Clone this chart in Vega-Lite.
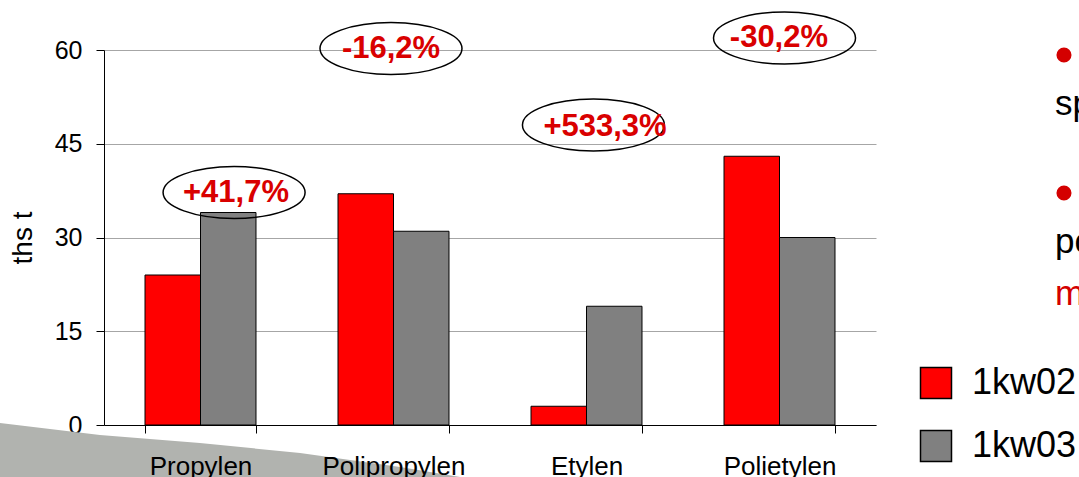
{
  "$schema": "https://vega.github.io/schema/vega-lite/v6.json",
  "width": 772,
  "height": 375,
  "autosize": "none",
  "padding": {"left": 104, "top": 50, "right": 203, "bottom": 52},
  "background": "white",
  "config": {"view": {"stroke": null}, "font": "Liberation Sans"},
  "datasets": {
    "bars": [
      {"product": "Propylen", "period": "1kw02", "value": 24},
      {"product": "Propylen", "period": "1kw03", "value": 34},
      {"product": "Polipropylen", "period": "1kw02", "value": 37},
      {"product": "Polipropylen", "period": "1kw03", "value": 31},
      {"product": "Etylen", "period": "1kw02", "value": 3},
      {"product": "Etylen", "period": "1kw03", "value": 19},
      {"product": "Polietylen", "period": "1kw02", "value": 43},
      {"product": "Polietylen", "period": "1kw03", "value": 30}
    ],
    "notes": [
      {"label": "+41,7%", "x": 0.684, "y": 37.17, "ex": 0.674, "ey": 37.2},
      {"label": "-16,2%", "x": 1.487, "y": 60.13, "ex": 1.487, "ey": 60.24},
      {"label": "+533,3%", "x": 2.596, "y": 47.73, "ex": 2.536, "ey": 48.0},
      {"label": "-30,2%", "x": 3.497, "y": 61.89, "ex": 3.526, "ey": 61.92}
    ],
    "swoosh": [
      {"x": -0.539, "y": 0.32},
      {"x": -0.021, "y": -1.6},
      {"x": 0.497, "y": -2.88},
      {"x": 1.016, "y": -4.48},
      {"x": 1.534, "y": -6.72},
      {"x": 1.845, "y": -8.32}
    ],
    "side": [
      {"label": "sp", "x": 4.927, "y": 49.6, "highlight": false},
      {"label": "po", "x": 4.927, "y": 27.52, "highlight": false},
      {"label": "m", "x": 4.927, "y": 19.2, "highlight": true}
    ],
    "bullets": [
      {"x": 4.974, "y": 59.2},
      {"x": 4.974, "y": 37.12}
    ]
  },
  "layer": [
    {
      "data": {"name": "swoosh"},
      "mark": {"type": "area", "color": "#b1b3af", "opacity": 1},
      "encoding": {
        "x": {"field": "x", "type": "quantitative", "scale": {"domain": [0, 4], "nice": false, "zero": false}, "axis": null},
        "y": {"field": "y", "type": "quantitative", "scale": {"domain": [0, 60], "nice": false}, "axis": null},
        "y2": {"datum": -8.32}
      }
    },
    {
      "data": {"name": "bars"},
      "mark": {"type": "bar", "stroke": "black", "strokeWidth": 1},
      "encoding": {
        "x": {
          "field": "product", "type": "nominal",
          "sort": ["Propylen", "Polipropylen", "Etylen", "Polietylen"],
          "scale": {"paddingInner": 0.425, "paddingOuter": 0.2125},
          "axis": {
            "title": null, "labelAngle": 0, "labelFontSize": 26, "labelColor": "black",
            "tickBand": "extent", "tickSize": 8, "tickColor": "black", "domainColor": "black",
            "labelPadding": 20, "zindex": 1
          }
        },
        "xOffset": {"field": "period", "type": "nominal", "scale": {"paddingInner": 0, "paddingOuter": 0}},
        "y": {
          "field": "value", "type": "quantitative",
          "scale": {"domain": [0, 60], "nice": false},
          "axis": {
            "values": [0, 15, 30, 45, 60], "title": "ths t", "grid": true, "gridColor": "#a6a6a6",
            "tickSize": 8, "tickColor": "black", "domainColor": "black", "labelPadding": 14,
            "labelFontSize": 25, "labelColor": "black",
            "titleFontSize": 28, "titleFontWeight": "normal", "titleColor": "black",
            "titleX": -81, "titleY": 187.5, "titleAngle": -90, "titleBaseline": "middle", "titleAlign": "center"
          }
        },
        "color": {
          "field": "period", "type": "nominal",
          "scale": {"domain": ["1kw02", "1kw03"], "range": ["#ff0000", "#808080"]},
          "legend": {
            "orient": "none", "legendX": 814, "legendY": 315, "title": null, "padding": 0,
            "symbolType": "square", "symbolSize": 961, "symbolStrokeColor": "black", "symbolStrokeWidth": 1.5,
            "labelFontSize": 36, "labelColor": "black", "labelOffset": 18, "rowPadding": 25
          }
        }
      }
    },
    {
      "data": {"name": "notes"},
      "mark": {
        "type": "point", "filled": false, "stroke": "black", "strokeWidth": 1.5, "opacity": 1,
        "size": 20164,
        "shape": "M -1 0 C -1 -0.2022 -0.5523 -0.366 0 -0.366 C 0.5523 -0.366 1 -0.2022 1 0 C 1 0.2022 0.5523 0.366 0 0.366 C -0.5523 0.366 -1 0.2022 -1 0 Z"
      },
      "encoding": {
        "x": {"field": "ex", "type": "quantitative", "scale": {"domain": [0, 4], "nice": false, "zero": false}, "axis": null},
        "y": {"field": "ey", "type": "quantitative", "axis": null}
      }
    },
    {
      "data": {"name": "notes"},
      "mark": {"type": "text", "fontSize": 31, "fontWeight": "bold", "color": "#d90000", "align": "center", "baseline": "middle"},
      "encoding": {
        "x": {"field": "x", "type": "quantitative", "scale": {"domain": [0, 4], "nice": false, "zero": false}, "axis": null},
        "y": {"field": "y", "type": "quantitative", "axis": null},
        "text": {"field": "label"}
      }
    },
    {
      "data": {"name": "side"},
      "mark": {"type": "text", "fontSize": 35, "align": "left", "baseline": "alphabetic"},
      "encoding": {
        "x": {"field": "x", "type": "quantitative", "scale": {"domain": [0, 4], "nice": false, "zero": false}, "axis": null},
        "y": {"field": "y", "type": "quantitative", "axis": null},
        "text": {"field": "label"},
        "color": {"condition": {"test": "datum.highlight", "value": "#d40000"}, "value": "black"}
      }
    },
    {
      "data": {"name": "bullets"},
      "mark": {"type": "point", "shape": "circle", "filled": true, "color": "#d40000", "size": 227, "opacity": 1},
      "encoding": {
        "x": {"field": "x", "type": "quantitative", "scale": {"domain": [0, 4], "nice": false, "zero": false}, "axis": null},
        "y": {"field": "y", "type": "quantitative", "axis": null}
      }
    }
  ],
  "resolve": {"scale": {"x": "independent"}, "axis": {"y": "independent"}}
}
